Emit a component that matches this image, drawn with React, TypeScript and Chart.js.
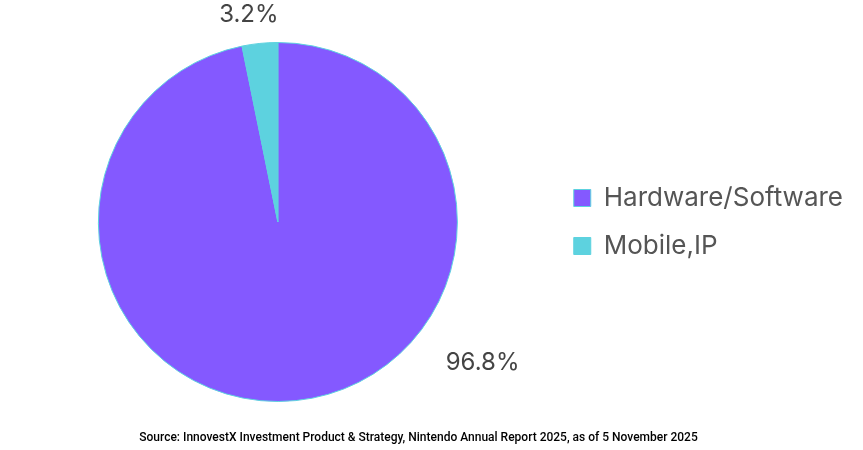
import React, { useEffect, useRef } from "react";
import { Chart, registerables } from "chart.js";

Chart.register(...registerables);

const categories = ["Hardware/Software", "Mobile,IP"];
const shares = [96.8, 3.2];
const colors = ["#8459ff", "#5dd2df"];
const sourceText =
  "Source: InnovestX Investment Product & Strategy, Nintendo Annual Report 2025, as of 5 November 2025";

// label placement relative to slice (degrees shift from mid-angle, px beyond outer radius)
const labelShiftDeg = [-49.7, -2.2];
const labelGap = [69, 30];

const outsideLabels = {
  id: "outsideLabels",
  afterDatasetsDraw(chart: any) {
    const ctx = chart.ctx;
    const meta = chart.getDatasetMeta(0);
    ctx.save();
    ctx.font = '24px "Inter", "Roboto", sans-serif';
    ctx.fillStyle = "#444444";
    ctx.textAlign = "center";
    ctx.textBaseline = "middle";
    meta.data.forEach((arc: any, i: number) => {
      const p = arc.getProps(["x", "y", "startAngle", "endAngle", "outerRadius"], true);
      const mid = (p.startAngle + p.endAngle) / 2 + (labelShiftDeg[i] * Math.PI) / 180;
      const r = p.outerRadius + labelGap[i];
      const x = p.x + Math.cos(mid) * r;
      const y = p.y + Math.sin(mid) * r;
      ctx.fillText(shares[i].toFixed(1) + "%", x, y);
    });
    ctx.restore();
  },
};

export default function App() {
  const ref = useRef<HTMLCanvasElement | null>(null);
  useEffect(() => {
    if (!ref.current) return;
    const chart = new Chart(ref.current, {
      type: "pie",
      data: {
        labels: categories,
        datasets: [
          {
            data: shares,
            backgroundColor: colors,
            borderColor: "#5dd2df",
            borderWidth: 1,
          },
        ],
      },
      options: {
        responsive: true,
        maintainAspectRatio: false,
        animation: false,
        layout: { padding: { top: 42, bottom: 48, left: 4, right: 10 } },
        plugins: {
          tooltip: { enabled: false },
          legend: {
            position: "right",
            fullSize: false,
            labels: {
              boxWidth: 17,
              boxHeight: 17,
              padding: 22,
              color: "#555555",
              font: { family: '"Inter", "Roboto", sans-serif', size: 26 },
            },
          },
        },
      },
      plugins: [outsideLabels],
    });
    return () => chart.destroy();
  }, []);
  return (
    <div style={{ position: "fixed", left: 0, top: 0, width: 863, height: 450, background: "#fff" }}>
      <div style={{ position: "absolute", left: 0, top: 0, width: 863, height: 450 }}>
        <canvas ref={ref} />
      </div>
      <div
        style={{
          position: "absolute",
          left: 0,
          width: 837,
          top: 429,
          textAlign: "center",
          fontFamily: '"Roboto", sans-serif',
          fontSize: 12,
          fontWeight: 500,
          lineHeight: "16px",
          color: "#000",
          whiteSpace: "nowrap",
        }}
      >
        {sourceText}
      </div>
    </div>
  );
}
